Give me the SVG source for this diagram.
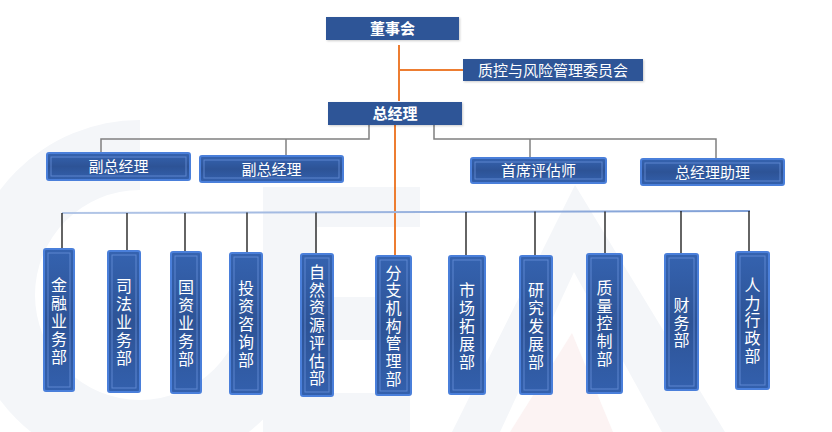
<svg xmlns="http://www.w3.org/2000/svg" width="832" height="432" viewBox="0 0 832 432">
<defs>
<style>
.flat{fill:#2F5597;filter:url(#sh);}
.bev{fill:url(#bg);stroke:#4A7FDA;stroke-width:2;}
.inner{fill:none;stroke:#6B94DC;stroke-width:1;opacity:0.75;}
.t{font-family:"Noto Sans CJK SC","Noto Sans",sans-serif;fill:#FFFFFF;text-anchor:middle;}
.tb{font-size:15px;font-weight:bold;}
.tm{font-size:15px;}
.tv{font-family:"Liberation Sans","Noto Sans CJK SC",sans-serif;font-size:16px;}
.gray{stroke:#808080;stroke-width:1.5;fill:none;}
.org{stroke:#ED7D31;stroke-width:2;fill:none;}
.blk{stroke:#111111;stroke-width:1.3;fill:none;}
.wm{fill:#F4F6F9;}
</style>
<linearGradient id="bg" x1="0" y1="0" x2="0" y2="1">
<stop offset="0" stop-color="#3563B0"/>
<stop offset="0.5" stop-color="#2D5396"/>
<stop offset="1" stop-color="#3360AD"/>
</linearGradient>
<linearGradient id="hb" x1="0" y1="0" x2="1" y2="0">
<stop offset="0" stop-color="#B4C7E7"/>
<stop offset="1" stop-color="#7F9FD6"/>
</linearGradient>
<filter id="sh" x="-10%" y="-20%" width="120%" height="150%">
<feDropShadow dx="1" dy="1" stdDeviation="1" flood-color="#000" flood-opacity="0.2"/>
</filter>
</defs>
<rect width="832" height="432" fill="#FFFFFF"/>
<g id="watermark">
<path class="wm" d="M140,120 A175,175 0 1 0 315,295 L245,295 A105,105 0 1 1 140,190 Z"/>
<path class="wm" d="M263,187 L420,187 L420,227 L317,227 L317,297 L400,297 L400,340 L317,340 L317,393 L410,393 L410,432 L263,432 Z"/>
<path class="wm" d="M575,185 L725,432 L662,432 L574,272 L500,432 L452,432 Z"/>
<path fill="#FCF3F3" d="M572,333 L613,432 L510,432 Z"/>
</g>
<g id="connectors">
<line class="org" x1="399" y1="45" x2="399" y2="101"/>
<line class="org" x1="400" y1="70" x2="463" y2="70"/>
<line class="org" x1="395" y1="125" x2="395" y2="256"/>
<polyline class="gray" points="369,125 369,139 101,139 101,153"/>
<line class="gray" x1="286" y1="139" x2="286" y2="156"/>
<polyline class="gray" points="434,125 434,139 716,139 716,159"/>
<line class="gray" x1="530" y1="139" x2="530" y2="158"/>
<line x1="62" y1="213" x2="750" y2="211" stroke="url(#hb)" stroke-width="2"/>
<line class="blk" x1="62" y1="213" x2="62" y2="249"/>
<line class="blk" x1="127" y1="213" x2="127" y2="251"/>
<line class="blk" x1="185" y1="213" x2="185" y2="252"/>
<line class="blk" x1="247" y1="212.5" x2="247" y2="253"/>
<line class="blk" x1="316" y1="212.5" x2="316" y2="254"/>
<line class="blk" x1="466" y1="212" x2="466" y2="256"/>
<line class="blk" x1="535" y1="211.5" x2="535" y2="256"/>
<line class="blk" x1="605" y1="211.5" x2="605" y2="254"/>
<line class="blk" x1="681" y1="211" x2="681" y2="254"/>
<line class="blk" x1="749" y1="211" x2="749" y2="252"/>
</g>
<g id="n-board"><rect class="flat" x="326" y="17" width="133" height="23"/><text class="t tb" x="392.5" y="34">董事会</text></g>
<g id="n-risk"><rect class="flat" x="463" y="59" width="180" height="22"/><text class="t tm" x="553" y="75.5">质控与风险管理委员会</text></g>
<g id="n-gm"><rect class="flat" x="328" y="102" width="134" height="23"/><text class="t tb" x="395" y="119">总经理</text></g>
<g id="n-dgm1"><rect class="bev" x="47" y="153" width="143" height="27" rx="2"/><rect class="inner" x="51" y="157" width="135" height="19"/><text class="t tm" x="118.5" y="172">副总经理</text></g>
<g id="n-dgm2"><rect class="bev" x="200" y="156" width="143" height="26" rx="2"/><rect class="inner" x="204" y="160" width="135" height="18"/><text class="t tm" x="271.5" y="174.5">副总经理</text></g>
<g id="n-chief"><rect class="bev" x="471" y="158" width="135" height="25" rx="2"/><rect class="inner" x="475" y="162" width="127" height="17"/><text class="t tm" x="538.5" y="176">首席评估师</text></g>
<g id="n-asst"><rect class="bev" x="641" y="159" width="143" height="26" rx="2"/><rect class="inner" x="645" y="163" width="135" height="18"/><text class="t tm" x="712.5" y="177.5">总经理助理</text></g>
<g id="d-finance"><rect class="bev" x="44" y="249" width="30" height="142" rx="2"/><rect class="inner" x="48" y="253" width="22" height="134"/><text class="t tv"><tspan x="59" y="291">金</tspan><tspan x="59" y="309">融</tspan><tspan x="59" y="327">业</tspan><tspan x="59" y="345">务</tspan><tspan x="59" y="363">部</tspan></text></g>
<g id="d-judicial"><rect class="bev" x="108" y="251" width="32" height="141" rx="2"/><rect class="inner" x="112" y="255" width="24" height="133"/><text class="t tv"><tspan x="124" y="291.5">司</tspan><tspan x="124" y="309.5">法</tspan><tspan x="124" y="327.5">业</tspan><tspan x="124" y="345.5">务</tspan><tspan x="124" y="363.5">部</tspan></text></g>
<g id="d-state"><rect class="bev" x="171" y="252" width="30" height="141" rx="2"/><rect class="inner" x="175" y="256" width="22" height="133"/><text class="t tv"><tspan x="186" y="293">国</tspan><tspan x="186" y="311">资</tspan><tspan x="186" y="329">业</tspan><tspan x="186" y="347">务</tspan><tspan x="186" y="365">部</tspan></text></g>
<g id="d-invest"><rect class="bev" x="230" y="253" width="32" height="141" rx="2"/><rect class="inner" x="234" y="257" width="24" height="133"/><text class="t tv"><tspan x="246" y="294">投</tspan><tspan x="246" y="312">资</tspan><tspan x="246" y="330">咨</tspan><tspan x="246" y="348">询</tspan><tspan x="246" y="366">部</tspan></text></g>
<g id="d-natural"><rect class="bev" x="301" y="254" width="32" height="142" rx="2"/><rect class="inner" x="305" y="258" width="24" height="134"/><text class="t tv"><tspan x="317" y="278">自</tspan><tspan x="317" y="295.7">然</tspan><tspan x="317" y="313.4">资</tspan><tspan x="317" y="331.1">源</tspan><tspan x="317" y="348.8">评</tspan><tspan x="317" y="366.5">估</tspan><tspan x="317" y="384.2">部</tspan></text></g>
<g id="d-branch"><rect class="bev" x="376" y="256" width="35" height="139" rx="2"/><rect class="inner" x="380" y="260" width="27" height="131"/><text class="t tv"><tspan x="393.5" y="278.5">分</tspan><tspan x="393.5" y="296.2">支</tspan><tspan x="393.5" y="313.9">机</tspan><tspan x="393.5" y="331.6">构</tspan><tspan x="393.5" y="349.3">管</tspan><tspan x="393.5" y="367">理</tspan><tspan x="393.5" y="384.7">部</tspan></text></g>
<g id="d-market"><rect class="bev" x="449" y="256" width="36" height="138" rx="2"/><rect class="inner" x="453" y="260" width="28" height="130"/><text class="t tv"><tspan x="467" y="296">市</tspan><tspan x="467" y="314">场</tspan><tspan x="467" y="332">拓</tspan><tspan x="467" y="350">展</tspan><tspan x="467" y="368">部</tspan></text></g>
<g id="d-research"><rect class="bev" x="520" y="256" width="32" height="138" rx="2"/><rect class="inner" x="524" y="260" width="24" height="130"/><text class="t tv"><tspan x="536" y="296">研</tspan><tspan x="536" y="314">究</tspan><tspan x="536" y="332">发</tspan><tspan x="536" y="350">展</tspan><tspan x="536" y="368">部</tspan></text></g>
<g id="d-quality"><rect class="bev" x="587" y="254" width="35" height="139" rx="2"/><rect class="inner" x="591" y="258" width="27" height="131"/><text class="t tv"><tspan x="604.5" y="294">质</tspan><tspan x="604.5" y="311.7">量</tspan><tspan x="604.5" y="329.4">控</tspan><tspan x="604.5" y="347.1">制</tspan><tspan x="604.5" y="364.8">部</tspan></text></g>
<g id="d-fin"><rect class="bev" x="665" y="254" width="33" height="136" rx="2"/><rect class="inner" x="669" y="258" width="25" height="128"/><text class="t tv"><tspan x="681.5" y="311">财</tspan><tspan x="681.5" y="328.7">务</tspan><tspan x="681.5" y="346.4">部</tspan></text></g>
<g id="d-hr"><rect class="bev" x="736" y="252" width="33" height="137" rx="2"/><rect class="inner" x="740" y="256" width="25" height="129"/><text class="t tv"><tspan x="752.5" y="291">人</tspan><tspan x="752.5" y="308.7">力</tspan><tspan x="752.5" y="326.4">行</tspan><tspan x="752.5" y="344.1">政</tspan><tspan x="752.5" y="361.8">部</tspan></text></g>
</svg>
